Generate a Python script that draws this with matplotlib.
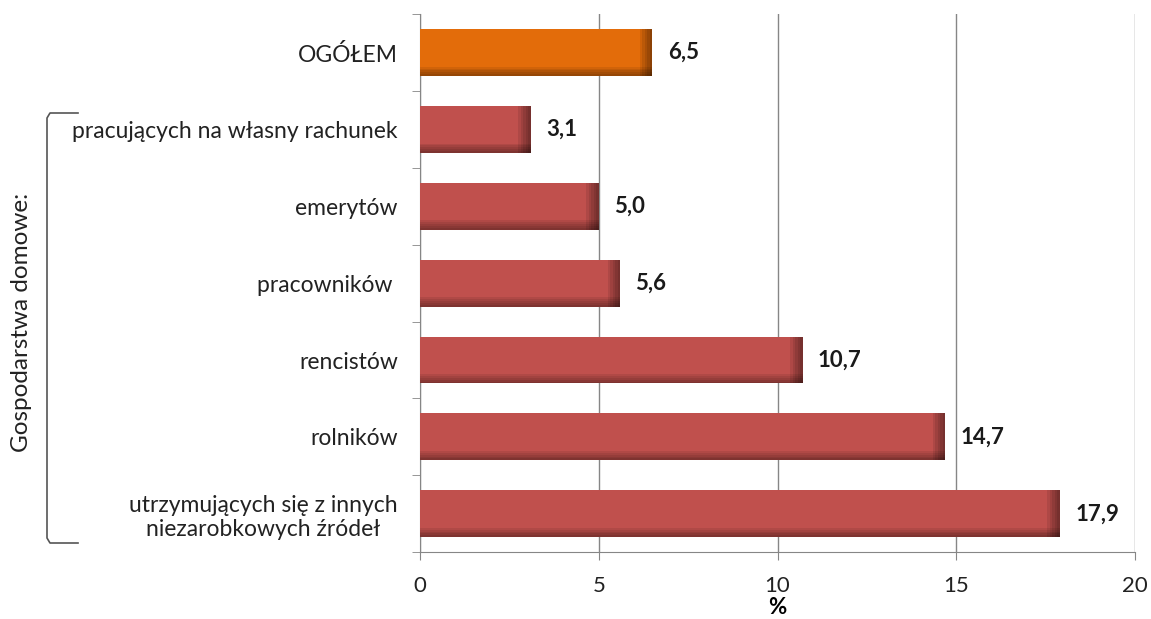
import matplotlib.pyplot as plt
from matplotlib.lines import Line2D
import numpy as np

plt.rcParams["font.family"] = ["Lato", "DejaVu Sans"]

categories = [
    "OGÓŁEM",
    "pracujących na własny rachunek",
    "emerytów",
    "pracowników ",
    "rencistów",
    "rolników",
    "utrzymujących się z innych\nniezarobkowych źródeł",
]
values = [6.5, 3.1, 5.0, 5.6, 10.7, 14.7, 17.9]
value_labels = ["6,5", "3,1", "5,0", "5,6", "10,7", "14,7", "17,9"]
bar_colors = ["#E36C0A"] + ["#C0504D"] * 6
x_ticks = [0, 5, 10, 15, 20]

fig = plt.figure(figsize=(11.51, 6.19), dpi=100)
ax = fig.add_axes([0.365, 0.108, 0.621, 0.869])

pos = np.arange(len(categories))
bar_h = 0.61
bars = ax.barh(pos, values, height=bar_h, color=bar_colors, zorder=3)

# shading at the right end and the lower edge of each bar (bevel look)
steps = 5
for p, v in zip(pos, values):
    for k in range(steps):
        # lower edge (larger y is lower, axis inverted)
        hh = bar_h * 0.2 * (steps - k) / steps
        ax.barh(p + bar_h / 2 - hh / 2, v, height=hh, color="black", alpha=0.08, zorder=4)
        ww = 0.35 * (steps - k) / steps
        ax.barh(p, ww, height=bar_h, left=v - ww, color="black", alpha=0.09, zorder=4)

for p, v, t in zip(pos, values, value_labels):
    ax.annotate(t, (v, p), xytext=(11, 0), textcoords="offset points",
                ha="left", va="center", fontsize=16, fontweight="bold", color="#1a1a1a")

ax.set_ylim(len(categories) - 0.5, -0.5)
ax.set_xlim(0, 20)
ax.set_xticks(x_ticks)
ax.set_xticklabels([str(t) for t in x_ticks], fontsize=16, color="#222222")
ax.set_yticks(pos)
ax.set_yticklabels(categories, fontsize=16.5, color="#222222", multialignment="center")
ax.tick_params(axis="y", length=0, pad=16)
ax.set_yticks(np.arange(len(categories) + 1) - 0.5, minor=True)
ax.tick_params(axis="y", which="minor", length=6, color="#868686", direction="out")
ax.tick_params(axis="x", length=6, color="#868686", pad=11)
ax.grid(axis="x", color="#868686", linewidth=1, zorder=0)
for s in ["top", "right"]:
    ax.spines[s].set_visible(False)
for s in ["left", "bottom"]:
    ax.spines[s].set_color("#868686")
ax.set_xlabel("%", fontsize=16, fontweight="bold", labelpad=1)

# bracket grouping household types
W, H = 1151, 619
bx = [78 / W, 50 / W, 47 / W, 47 / W, 50 / W, 78 / W]
by = [1 - 113 / H, 1 - 113 / H, 1 - 118 / H, 1 - 538 / H, 1 - 543 / H, 1 - 543 / H]
fig.add_artist(Line2D(bx, by, transform=fig.transFigure, color="#555555", linewidth=1.2))
fig.text(22 / W, 1 - 322 / H, "Gospodarstwa domowe:", rotation=90,
         ha="center", va="center", fontsize=17.5, color="#222222")

fig.savefig("out.png", dpi=100)
